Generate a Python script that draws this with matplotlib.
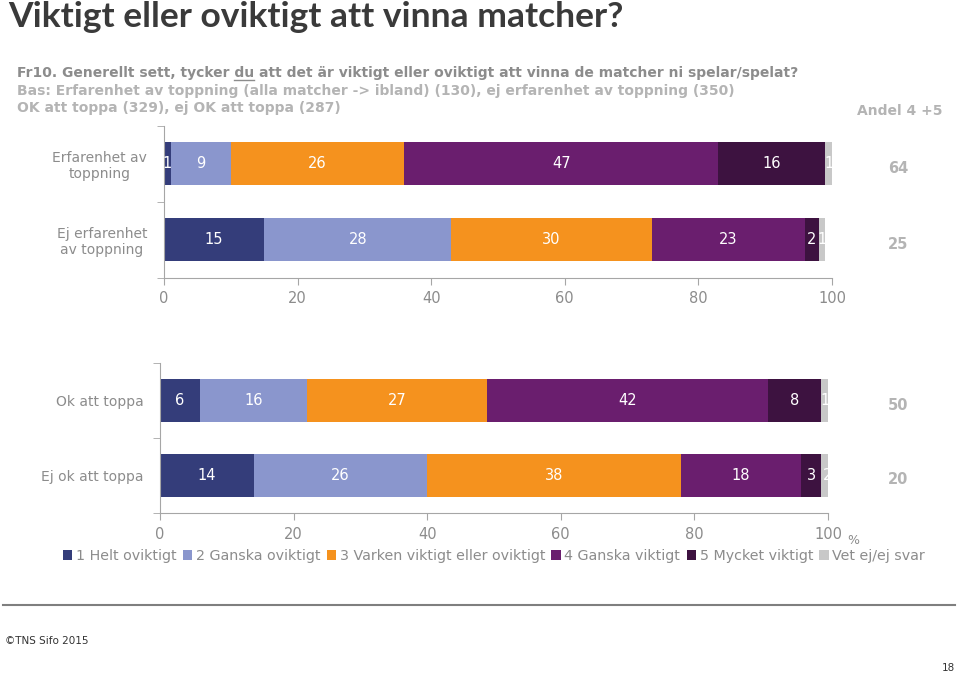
import matplotlib
matplotlib.use('Agg')
import matplotlib.pyplot as plt
import numpy as np
from matplotlib.patches import Patch
from matplotlib.lines import Line2D

# Data
groups_top = ['Erfarenhet av\ntoppning', 'Ej erfarenhet\nav toppning']
groups_bottom = ['Ok att toppa', 'Ej ok att toppa']
series_names = ['1 Helt oviktigt', '2 Ganska oviktigt', '3 Varken viktigt eller oviktigt',
                '4 Ganska viktigt', '5 Mycket viktigt', 'Vet ej/ej svar']
helt_oviktigt = [1, 15, 6, 14]
ganska_oviktigt = [9, 28, 16, 26]
varken = [26, 30, 27, 38]
ganska_viktigt = [47, 23, 42, 18]
mycket_viktigt = [16, 2, 8, 3]
vet_ej = [1, 1, 1, 2]
andel_45 = [64, 25, 50, 20]
xticks = [0, 20, 40, 60, 80, 100]

colors = ['#343d7a', '#8a96cd', '#f5921e', '#6a1e6e', '#3d1240', '#c8c8c8']
grey_txt = '#8c8c8c'
light_txt = '#b4b4b4'
spine_c = '#a6a6a6'

W, H = 959, 674
fig = plt.figure(figsize=(W / 100, H / 100), dpi=100)
plt.rcParams['font.family'] = 'DejaVu Sans'

series = [helt_oviktigt, ganska_oviktigt, varken, ganska_viktigt, mycket_viktigt, vet_ej]


def panel(rect, labels, idx):
    ax = fig.add_axes(rect)
    y = np.arange(len(labels))
    left = np.zeros(len(labels))
    for vals, c in zip(series, colors):
        v = np.array([vals[i] for i in idx], dtype=float)
        ax.barh(y, v, left=left, height=0.57, color=c, zorder=2)
        for yi, (l, w) in enumerate(zip(left, v)):
            ax.text(l + w / 2, yi, f'{int(w)}', ha='center', va='center',
                    color='white', fontsize=10.5, zorder=3)
        left += v
    ax.set_xlim(0, 100)
    ax.set_ylim(len(labels) - 0.5, -0.5)
    ax.set_yticks(y)
    ax.set_yticklabels(labels, multialignment='center')
    ax.set_yticks(np.arange(-0.5, len(labels)), minor=True)
    ax.tick_params(axis='y', which='major', length=0, pad=12, labelsize=10, labelcolor=grey_txt)
    ax.tick_params(axis='y', which='minor', length=5, color=spine_c, direction='out')
    ax.set_xticks(xticks)
    ax.tick_params(axis='x', length=5, color=spine_c, pad=5, labelsize=10.5, labelcolor=grey_txt)
    for s in ['top', 'right']:
        ax.spines[s].set_visible(False)
    for s in ['left', 'bottom']:
        ax.spines[s].set_color(spine_c)
    # Andel 4+5 values, x given in figure pixels
    x0, x1 = rect[0], rect[0] + rect[2]
    for yi, i in enumerate(idx):
        ax.text((898 / W - x0) / (x1 - x0), yi + 0.06, str(andel_45[i]),
                transform=ax.get_yaxis_transform(), ha='center', va='center',
                fontsize=10.5, fontweight='bold', color=light_txt)
    return ax


ax1 = panel([164 / W, 1 - 277.5 / H, 668 / W, 152 / H], groups_top, [0, 1])
ax2 = panel([160 / W, 1 - 513 / H, 668 / W, 150 / H], groups_bottom, [2, 3])

# Title
fig.text(8 / W, 1 - 27 / H, 'Viktigt eller oviktigt att vinna matcher?', fontsize=25.5,
         fontweight='bold', color='#3a3a3a', family='Lato', va='baseline')

# Subtitle lines, "du" underlined
renderer = fig.canvas.get_renderer()
pre = 'Fr10. Generellt sett, tycker '
sub_kw = dict(fontsize=10, fontweight='bold', va='baseline')
fig.text(17 / W, 1 - 77 / H, pre + 'du att det är viktigt eller oviktigt att vinna de matcher ni spelar/spelat?',
         color=grey_txt, **sub_kw)
tmp = fig.text(17 / W, 1 - 77 / H, pre, **sub_kw)
x_start = tmp.get_window_extent(renderer).x1
tmp.remove()
tmp = fig.text(17 / W, 1 - 77 / H, pre + 'du', **sub_kw)
x_end = tmp.get_window_extent(renderer).x1
tmp.remove()
y_ul = H - 79.5
fig.add_artist(Line2D([x_start / W, x_end / W], [y_ul / H, y_ul / H], color=grey_txt, lw=1))
fig.text(17 / W, 1 - 95 / H, 'Bas: Erfarenhet av toppning (alla matcher -> ibland) (130), ej erfarenhet av toppning (350)',
         color=light_txt, **sub_kw)
fig.text(17 / W, 1 - 112 / H, 'OK att toppa (329), ej OK att toppa (287)', color=light_txt, **sub_kw)
fig.text(900 / W, 1 - 111 / H, 'Andel 4 +5', fontsize=10, fontweight='bold', color=light_txt,
         ha='center', va='center')

# percent sign
fig.text(853 / W, 1 - 541 / H, '%', fontsize=9, color=grey_txt, ha='center', va='center')

# Legend
handles = [Patch(facecolor=c, edgecolor='none') for c in colors]
fig.legend(handles, series_names, loc='center', bbox_to_anchor=(494 / W, 1 - 556 / H), ncol=6,
           frameon=False, fontsize=10.3, labelcolor=grey_txt, handlelength=0.65, handleheight=0.65,
           handletextpad=0.25, columnspacing=0.45, borderpad=0)

# Footer
fig.add_artist(Line2D([3 / W, 955 / W], [1 - 605 / H, 1 - 605 / H], color='#7f7f7f', lw=1.5))
fig.text(5 / W, 1 - 641 / H, '©TNS Sifo 2015', fontsize=7.5, color='#333333', va='center')
fig.text(955 / W, 1 - 668 / H, '18', fontsize=7.5, color='#333333', va='center', ha='right')

fig.savefig('out.png', dpi=100)
